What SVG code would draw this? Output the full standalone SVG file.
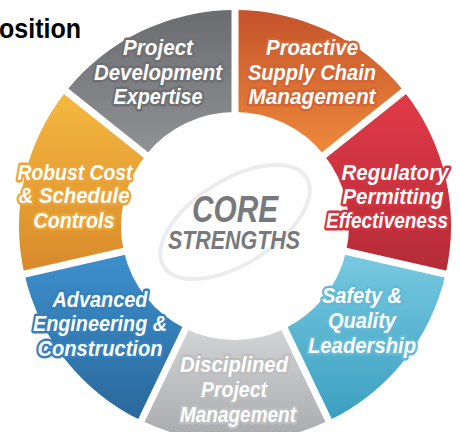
<svg xmlns="http://www.w3.org/2000/svg" width="460" height="432" viewBox="0 0 460 432">
<defs>
<linearGradient id="gGray" x1="0" y1="0" x2="0" y2="1"><stop offset="0" stop-color="#6a6c6f"/><stop offset="1" stop-color="#909295"/></linearGradient>
<linearGradient id="gOrange" x1="0" y1="0" x2="0" y2="1"><stop offset="0" stop-color="#c4532b"/><stop offset="1" stop-color="#ee8a3b"/></linearGradient>
<linearGradient id="gRed" x1="0" y1="0" x2="0" y2="1"><stop offset="0" stop-color="#e23a48"/><stop offset="1" stop-color="#b32b36"/></linearGradient>
<linearGradient id="gSky" x1="0" y1="0" x2="0" y2="1"><stop offset="0" stop-color="#78cae1"/><stop offset="1" stop-color="#3b9fc0"/></linearGradient>
<linearGradient id="gLight" x1="0" y1="0" x2="0" y2="1"><stop offset="0" stop-color="#d2d4d5"/><stop offset="1" stop-color="#a7a9ab"/></linearGradient>
<linearGradient id="gBlue" x1="0" y1="0" x2="0" y2="1"><stop offset="0" stop-color="#3d90cd"/><stop offset="1" stop-color="#2a689b"/></linearGradient>
<linearGradient id="gYellow" x1="0" y1="0" x2="0" y2="1"><stop offset="0" stop-color="#f5b93f"/><stop offset="1" stop-color="#d8892b"/></linearGradient>
</defs>
<style>
.lbl{font-family:"Liberation Sans",Arial,sans-serif;font-weight:bold;font-style:italic;font-size:22.5px;fill:#fff;text-anchor:middle;stroke-width:5;stroke-linejoin:round;paint-order:stroke}
.gap{stroke:#fff;stroke-width:7}
.core{font-family:"Liberation Sans",Arial,sans-serif;font-weight:bold;font-style:italic;fill:#77797c;text-anchor:middle}
</style>
<rect width="460" height="432" fill="#fff"/>
<text x="-1" y="38" font-family="'Liberation Sans',Arial,sans-serif" font-weight="bold" font-size="27" textLength="82" lengthAdjust="spacingAndGlyphs" fill="#000">osition</text>

<g id="seg-project-development">
<path d="M66.1,91.3 A216,216 0 0 1 235,10 L235,112 A114,114 0 0 0 145.9,154.9 Z" fill="url(#gGray)"/>
</g>
<g id="seg-proactive">
<path d="M235,10 A216,216 0 0 1 403.9,91.3 L324.1,154.9 A114,114 0 0 0 235,112 Z" fill="url(#gOrange)"/>
</g>
<g id="seg-regulatory">
<path d="M403.9,91.3 A216,216 0 0 1 445.6,274.1 L346.1,251.4 A114,114 0 0 0 324.1,154.9 Z" fill="url(#gRed)"/>
</g>
<g id="seg-safety">
<path d="M445.6,274.1 A216,216 0 0 1 328.7,420.6 L284.5,328.7 A114,114 0 0 0 346.1,251.4 Z" fill="url(#gSky)"/>
</g>
<g id="seg-disciplined">
<path d="M328.7,420.6 A216,216 0 0 1 141.3,420.6 L185.5,328.7 A114,114 0 0 0 284.5,328.7 Z" fill="url(#gLight)"/>
</g>
<g id="seg-advanced">
<path d="M141.3,420.6 A216,216 0 0 1 24.4,274.1 L123.9,251.4 A114,114 0 0 0 185.5,328.7 Z" fill="url(#gBlue)"/>
</g>
<g id="seg-robust">
<path d="M24.4,274.1 A216,216 0 0 1 66.1,91.3 L145.9,154.9 A114,114 0 0 0 123.9,251.4 Z" fill="url(#gYellow)"/>
</g>

<g id="connectors">
<line class="gap" x1="235" y1="6" x2="235" y2="116"/>
<line class="gap" x1="407" y1="88.8" x2="321" y2="157.4"/>
<line class="gap" x1="449.5" y1="275" x2="342.2" y2="250.5"/>
<line class="gap" x1="330.4" y1="424.2" x2="282.8" y2="325.1"/>
<line class="gap" x1="139.6" y1="424.2" x2="187.2" y2="325.1"/>
<line class="gap" x1="20.5" y1="275" x2="127.8" y2="250.5"/>
<line class="gap" x1="63" y1="88.8" x2="149" y2="157.4"/>
</g>

<g id="center">
<ellipse cx="235" cy="222" rx="84" ry="42" transform="rotate(-32 235 222)" fill="none" stroke="#ebeced" stroke-width="4"/>
<text class="core" x="235" y="222" font-size="37" textLength="86" lengthAdjust="spacingAndGlyphs">CORE</text>
<text class="core" x="234" y="249" font-size="25" textLength="132" lengthAdjust="spacingAndGlyphs">STRENGTHS</text>
</g>

<g id="label-project-development" stroke="#6e7073">
<text class="lbl" x="158" y="55" textLength="70" lengthAdjust="spacingAndGlyphs">Project</text>
<text class="lbl" x="158" y="80" textLength="128" lengthAdjust="spacingAndGlyphs">Development</text>
<text class="lbl" x="158" y="104" textLength="89" lengthAdjust="spacingAndGlyphs">Expertise</text>
</g>
<g id="label-proactive" stroke="#d56633">
<text class="lbl" x="312" y="55" textLength="92" lengthAdjust="spacingAndGlyphs">Proactive</text>
<text class="lbl" x="312" y="80" textLength="128" lengthAdjust="spacingAndGlyphs">Supply Chain</text>
<text class="lbl" x="312" y="104" textLength="127" lengthAdjust="spacingAndGlyphs">Management</text>
</g>
<g id="label-regulatory" stroke="#cf3440">
<text class="lbl" x="395" y="180" textLength="107" lengthAdjust="spacingAndGlyphs">Regulatory</text>
<text class="lbl" x="393" y="204" textLength="101" lengthAdjust="spacingAndGlyphs">Permitting</text>
<text class="lbl" x="387" y="228" font-size="20.5" textLength="122" lengthAdjust="spacingAndGlyphs">Effectiveness</text>
</g>
<g id="label-safety" stroke="#62bad6">
<text class="lbl" x="362" y="303" textLength="80" lengthAdjust="spacingAndGlyphs">Safety &amp;</text>
<text class="lbl" x="362" y="328" textLength="68" lengthAdjust="spacingAndGlyphs">Quality</text>
<text class="lbl" x="362" y="353" textLength="108" lengthAdjust="spacingAndGlyphs">Leadership</text>
</g>
<g id="label-disciplined" stroke="#bcbec0">
<text class="lbl" x="234" y="372" textLength="108" lengthAdjust="spacingAndGlyphs">Disciplined</text>
<text class="lbl" x="234" y="397" textLength="66" lengthAdjust="spacingAndGlyphs">Project</text>
<text class="lbl" x="238" y="422" textLength="116" lengthAdjust="spacingAndGlyphs">Management</text>
</g>
<g id="label-advanced" stroke="#3480bd">
<text class="lbl" x="100" y="307" textLength="95" lengthAdjust="spacingAndGlyphs">Advanced</text>
<text class="lbl" x="100" y="331" textLength="134" lengthAdjust="spacingAndGlyphs">Engineering &amp;</text>
<text class="lbl" x="100" y="356" textLength="125" lengthAdjust="spacingAndGlyphs">Construction</text>
</g>
<g id="label-robust" stroke="#eca53a">
<text class="lbl" x="75" y="180" textLength="115" lengthAdjust="spacingAndGlyphs">Robust Cost</text>
<text class="lbl" x="74" y="203" textLength="111" lengthAdjust="spacingAndGlyphs">&amp; Schedule</text>
<text class="lbl" x="74" y="228" textLength="81" lengthAdjust="spacingAndGlyphs">Controls</text>
</g>
</svg>
